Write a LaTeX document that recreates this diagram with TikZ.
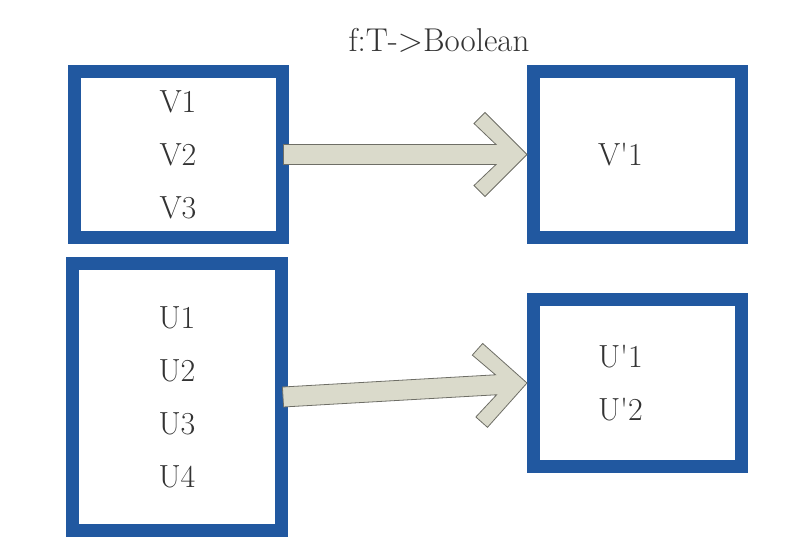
\documentclass[tikz,border=0pt]{standalone}
\usepackage{fontspec}
\usepackage{tikz}
\usetikzlibrary{calc}
\definecolor{boxblue}{HTML}{2158A0}
\definecolor{arrowfill}{HTML}{DADACB}
\definecolor{arrowline}{HTML}{6E6E66}
\definecolor{textgray}{HTML}{333333}

% fat arrow with a chevron head, from #1 to #2
\newcommand{\fatarrow}[2]{%
  \draw[fat arrow] ($(#1)!10pt!90:(#2)$) -- ($(#2)!31pt!(#1)!10pt!-90:(#1)$)
    -- ($(#2)!53pt!(#1)!31pt!-90:(#1)$) -- ($(#2)!42pt!(#1)!42pt!-90:(#1)$)
    -- (#2)
    -- ($(#2)!42pt!(#1)!42pt!90:(#1)$) -- ($(#2)!53pt!(#1)!31pt!90:(#1)$)
    -- ($(#2)!31pt!(#1)!10pt!90:(#1)$) -- ($(#1)!10pt!-90:(#2)$) -- cycle;}

\begin{document}
\begin{tikzpicture}[x=1pt,y=-1pt,
    box/.style={draw=boxblue,line width=13pt,fill=white,text=textgray,minimum width=208pt,align=center,font=\fontsize{32}{53}\selectfont},
    fat arrow/.style={fill=arrowfill,draw=arrowline,line width=0.8pt,line join=miter}]
    \useasboundingbox (0,0) rectangle (800,552);

    \path (439,40) node[text=textgray,font=\fontsize{33}{40}\selectfont] (title) {f:T->Boolean};
    \path (178,154.5) node[box,minimum height=166pt] (vbox) {V1\\V2\\V3};
    \path (637.5,154.5) node[box,minimum height=166pt,text width=79pt,align=left] (vpbox) {V\textquotesingle1};
    \path (177,397) node[box,minimum width=209pt,minimum height=267pt] (ubox) {U1\\U2\\U3\\U4};
    \path (637.5,383) node[box,minimum height=167pt,text width=79pt,align=left] (upbox) {U\textquotesingle1\\U\textquotesingle2};

    \coordinate (vtail) at ($(vbox.east)+(-5,0)$);
    \coordinate (utail) at ($(ubox.east)+(-5,0)$);
    \fatarrow{vtail}{vpbox.west}
    \fatarrow{utail}{upbox.west}
\end{tikzpicture}
\end{document}
